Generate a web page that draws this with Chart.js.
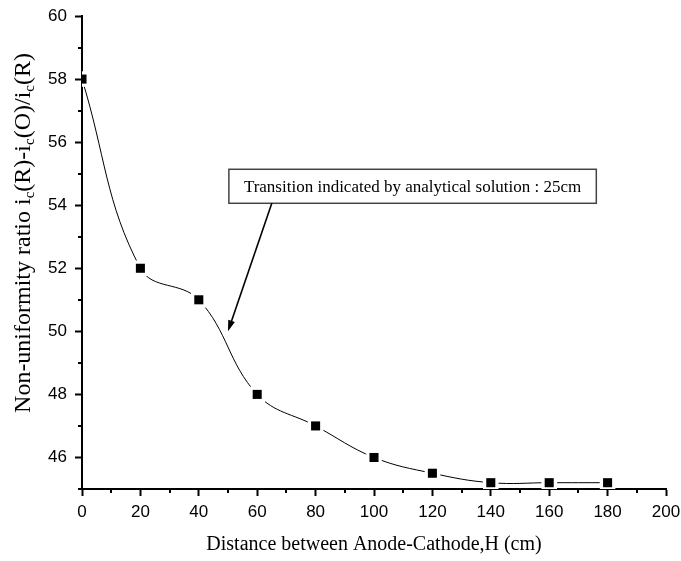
<!DOCTYPE html>
<html>
<head>
<meta charset="utf-8">
<script src="https://cdn.jsdelivr.net/npm/chart.js@4.4.1/dist/chart.umd.min.js"></script>
<style>
  html, body { margin: 0; padding: 0; background: #fff; }
  #wrap { width: 681px; height: 561px; }
</style>
</head>
<body>
<div id="wrap"><canvas id="ratioChart" width="681" height="561"></canvas></div>
<script>
// values
const distances = [0, 20, 40, 60, 80, 100, 120, 140, 160, 180];
const ratios    = [58, 52, 51, 48, 47, 46, 45.5, 45.2, 45.2, 45.2];

const xTicks = [0, 20, 40, 60, 80, 100, 120, 140, 160, 180, 200];
const yTicks = [46, 48, 50, 52, 54, 56, 58, 60];
const xMinor = [10, 30, 50, 70, 90, 110, 130, 150, 170, 190];
const yMinor = [45, 47, 49, 51, 53, 55, 57, 59];

const xTitle = 'Distance between Anode-Cathode,H (cm)';
// y title pieces: [text, isSubscript]
const yTitleParts = [
  ['Non-uniformity ratio i', false], ['c', true],
  ['(R)-i', false], ['c', true],
  ['(O)/i', false], ['c', true],
  ['(R)', false]
];

const noteText  = 'Transition indicated by analytical solution : 25cm';
const noteLeft  = 50.3;   // data x of the box's left edge
const noteMidY  = 54.6;   // data y of the box's middle
const arrowFrom = 65;     // data x where the arrow leaves the box
const arrowTo   = [50, 50];

const serif = '"Liberation Serif", "Times New Roman", serif';
const sans  = '"Liberation Sans", Arial, sans-serif';
const pts   = distances.map((d, i) => ({ x: d, y: ratios[i] }));

const minorTicks = {
  id: 'minorTicks',
  afterDraw(chart) {
    const { ctx, scales: { x, y }, chartArea } = chart;
    ctx.save();
    ctx.strokeStyle = '#000';
    ctx.lineWidth = 2;
    ctx.beginPath();
    xMinor.forEach(v => {
      const px = Math.round(x.getPixelForValue(v));
      ctx.moveTo(px, chartArea.bottom);
      ctx.lineTo(px, chartArea.bottom + 4);
    });
    yMinor.forEach(v => {
      const py = Math.round(y.getPixelForValue(v));
      ctx.moveTo(chartArea.left, py);
      ctx.lineTo(chartArea.left - 4, py);
    });
    ctx.stroke();
    ctx.restore();
  }
};

const yTitle = {
  id: 'yTitle',
  afterDraw(chart) {
    const { ctx } = chart;
    const big = '24px ' + serif, small = '15px ' + serif;
    ctx.save();
    ctx.fillStyle = '#000';
    ctx.textBaseline = 'alphabetic';
    let total = 0;
    yTitleParts.forEach(([t, sub]) => {
      ctx.font = sub ? small : big;
      total += ctx.measureText(t).width;
    });
    ctx.translate(22, 233);
    ctx.rotate(-Math.PI / 2);
    let cx = -total / 2;
    yTitleParts.forEach(([t, sub]) => {
      ctx.font = sub ? small : big;
      ctx.fillText(t, cx, sub ? 12 : 8);
      cx += ctx.measureText(t).width;
    });
    ctx.restore();
  }
};

const note = {
  id: 'note',
  afterDraw(chart) {
    const { ctx, scales: { x, y } } = chart;
    ctx.save();
    ctx.font = '17px ' + serif;
    const w = ctx.measureText(noteText).width + 30;
    const h = 34;
    const left = x.getPixelForValue(noteLeft);
    const mid = y.getPixelForValue(noteMidY);
    ctx.fillStyle = '#fff';
    ctx.fillRect(left, mid - h / 2, w, h);
    ctx.strokeStyle = '#444';
    ctx.lineWidth = 1.5;
    ctx.strokeRect(left, mid - h / 2, w, h);
    ctx.fillStyle = '#000';
    ctx.textBaseline = 'middle';
    ctx.fillText(noteText, left + 15, mid + 1);

    // arrow
    const x0 = x.getPixelForValue(arrowFrom), y0 = mid + h / 2;
    const x1 = x.getPixelForValue(arrowTo[0]), y1 = y.getPixelForValue(arrowTo[1]);
    const ang = Math.atan2(y1 - y0, x1 - x0);
    ctx.strokeStyle = '#000';
    ctx.lineWidth = 1.6;
    ctx.beginPath();
    ctx.moveTo(x0, y0);
    ctx.lineTo(x1 - 8 * Math.cos(ang), y1 - 8 * Math.sin(ang));
    ctx.stroke();
    ctx.fillStyle = '#000';
    ctx.beginPath();
    ctx.moveTo(x1, y1);
    ctx.lineTo(x1 - 11 * Math.cos(ang) + 3.5 * Math.sin(ang), y1 - 11 * Math.sin(ang) - 3.5 * Math.cos(ang));
    ctx.lineTo(x1 - 11 * Math.cos(ang) - 3.5 * Math.sin(ang), y1 - 11 * Math.sin(ang) + 3.5 * Math.cos(ang));
    ctx.closePath();
    ctx.fill();
    ctx.restore();
  }
};

const ctx = document.getElementById('ratioChart').getContext('2d');
new Chart(ctx, {
  type: 'line',
  data: {
    datasets: [
      {
        data: pts, showLine: false, order: 0, clip: 0,
        pointStyle: 'rect', pointRadius: 6.4, pointBackgroundColor: '#000', pointBorderWidth: 0
      },
      {
        data: pts, showLine: false, order: 1, clip: 0,
        pointStyle: 'rect', pointRadius: 11, pointBackgroundColor: '#fff', pointBorderWidth: 0
      },
      {
        data: pts, order: 2, borderColor: '#000', borderWidth: 1, tension: 0.4,
        pointRadius: 0, fill: false
      }
    ]
  },
  options: {
    responsive: false,
    animation: false,
    events: [],
    layout: { padding: { top: 16, right: 15, left: 0, bottom: 0 } },
    plugins: { legend: { display: false }, tooltip: { enabled: false } },
    scales: {
      x: {
        type: 'linear', min: 0, max: 200,
        afterBuildTicks: s => { s.ticks = xTicks.map(v => ({ value: v })); },
        afterFit: s => { s.height = 72; s.paddingRight = 0; s.paddingLeft = 0; },
        grid: { drawOnChartArea: false, tickLength: 7, tickWidth: 2, tickColor: '#000' },
        border: { color: '#000', width: 2 },
        ticks: { color: '#000', font: { family: sans, size: 17 }, padding: 6, autoSkip: false, maxRotation: 0 },
        title: { display: true, text: xTitle, color: '#000', font: { family: serif, size: 20 }, padding: { top: 0, bottom: 4 } }
      },
      y: {
        type: 'linear', min: 45, max: 60,
        afterBuildTicks: s => { s.ticks = yTicks.map(v => ({ value: v })); },
        afterFit: s => { s.width = 82; s.paddingTop = 0; s.paddingBottom = 0; },
        grid: { drawOnChartArea: false, tickLength: 7, tickWidth: 2, tickColor: '#000' },
        border: { color: '#000', width: 2 },
        ticks: { color: '#000', font: { family: sans, size: 17 }, padding: 8, autoSkip: false }
      }
    }
  },
  plugins: [minorTicks, yTitle, note]
});
</script>
</body>
</html>
